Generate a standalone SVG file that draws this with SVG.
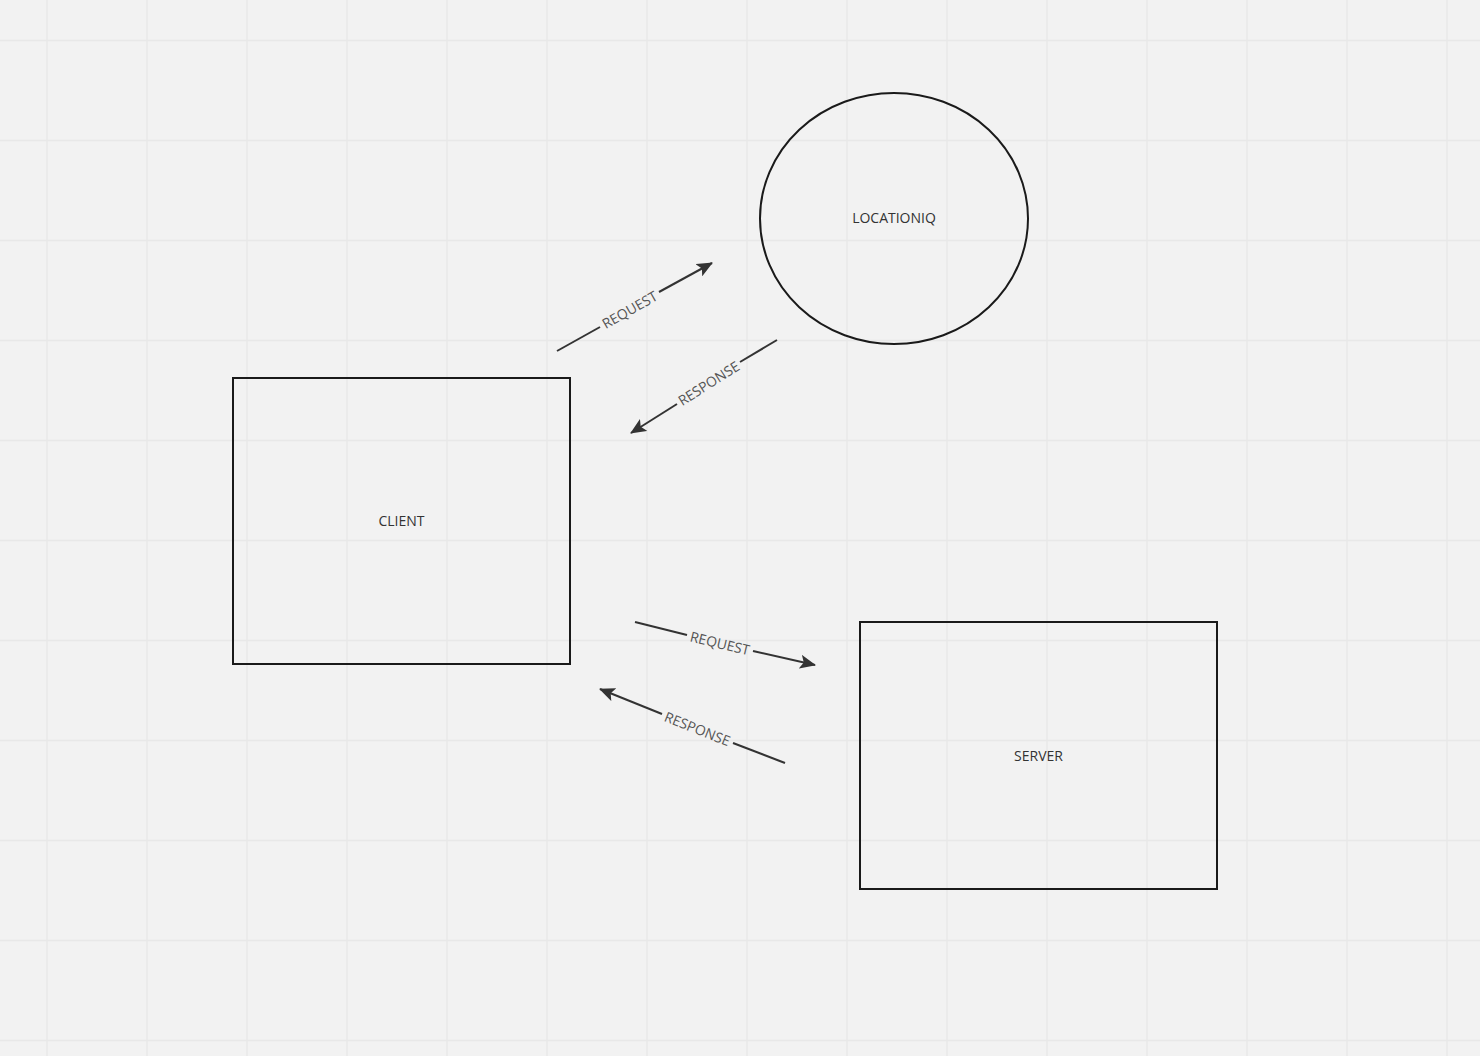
<svg xmlns="http://www.w3.org/2000/svg" width="1480" height="1056" viewBox="0 0 1480 1056">
<defs>
<style>
.grid line{stroke:#e8e8e8;stroke-width:1.5}
.node{fill:none;stroke:#1a1a1a;stroke-width:2}
.nlabel{font-family:"Open Sans","Noto Sans",sans-serif;font-size:14px;fill:#333;text-anchor:middle;dominant-baseline:central}
.conn line{stroke:#333;stroke-width:2;fill:none}
.clabel{font-family:"Open Sans","Noto Sans",sans-serif;font-size:14px;fill:#555;text-anchor:middle;dominant-baseline:central}
</style>
<marker id="arr" viewBox="0 0 17 14" markerWidth="17" markerHeight="14" refX="15" refY="7" orient="auto" markerUnits="userSpaceOnUse">
<path d="M0,0 L16,7 L0,14 L3.5,7 Z" fill="#333"/>
</marker>
</defs>
<rect width="1480" height="1056" fill="#f2f2f2"/>
<g class="grid">
<line x1="47" y1="0" x2="47" y2="1056"/><line x1="147" y1="0" x2="147" y2="1056"/><line x1="247" y1="0" x2="247" y2="1056"/><line x1="347" y1="0" x2="347" y2="1056"/><line x1="447" y1="0" x2="447" y2="1056"/><line x1="547" y1="0" x2="547" y2="1056"/><line x1="647" y1="0" x2="647" y2="1056"/><line x1="747" y1="0" x2="747" y2="1056"/><line x1="847" y1="0" x2="847" y2="1056"/><line x1="947" y1="0" x2="947" y2="1056"/><line x1="1047" y1="0" x2="1047" y2="1056"/><line x1="1147" y1="0" x2="1147" y2="1056"/><line x1="1247" y1="0" x2="1247" y2="1056"/><line x1="1347" y1="0" x2="1347" y2="1056"/><line x1="1447" y1="0" x2="1447" y2="1056"/>
<line x1="0" y1="40.5" x2="1480" y2="40.5"/><line x1="0" y1="140.5" x2="1480" y2="140.5"/><line x1="0" y1="240.5" x2="1480" y2="240.5"/><line x1="0" y1="340.5" x2="1480" y2="340.5"/><line x1="0" y1="440.5" x2="1480" y2="440.5"/><line x1="0" y1="540.5" x2="1480" y2="540.5"/><line x1="0" y1="640.5" x2="1480" y2="640.5"/><line x1="0" y1="740.5" x2="1480" y2="740.5"/><line x1="0" y1="840.5" x2="1480" y2="840.5"/><line x1="0" y1="940.5" x2="1480" y2="940.5"/><line x1="0" y1="1040.5" x2="1480" y2="1040.5"/>
</g>
<g id="client">
<rect class="node" x="233" y="378" width="337" height="286"/>
<text class="nlabel" x="401.5" y="520">CLIENT</text>
</g>
<g id="locationiq">
<ellipse class="node" cx="894" cy="218.5" rx="134" ry="125.5"/>
<text class="nlabel" x="894" y="217">LOCATIONIQ</text>
</g>
<g id="server">
<rect class="node" x="860" y="622" width="357" height="267"/>
<text class="nlabel" x="1038.5" y="755">SERVER</text>
</g>
<g class="conn" id="connectors">
<g id="c1">
<line x1="557" y1="351" x2="600" y2="327"/>
<line x1="659" y1="292" x2="712" y2="263" marker-end="url(#arr)"/>
<text class="clabel" transform="translate(629.5,309.5) rotate(-29.6)">REQUEST</text>
</g>
<g id="c2">
<line x1="777" y1="340" x2="740" y2="362"/>
<line x1="677" y1="404" x2="631" y2="433" marker-end="url(#arr)"/>
<text class="clabel" transform="translate(708.5,383) rotate(-32.5)">RESPONSE</text>
</g>
<g id="c3">
<line x1="635" y1="622" x2="687" y2="635"/>
<line x1="753" y1="651" x2="815" y2="665" marker-end="url(#arr)"/>
<text class="clabel" transform="translate(720,643) rotate(13.4)">REQUEST</text>
</g>
<g id="c4">
<line x1="785" y1="763" x2="733" y2="743"/>
<line x1="662" y1="714" x2="600" y2="689" marker-end="url(#arr)"/>
<text class="clabel" transform="translate(697.5,728.5) rotate(21.8)">RESPONSE</text>
</g>
</g>
</svg>
